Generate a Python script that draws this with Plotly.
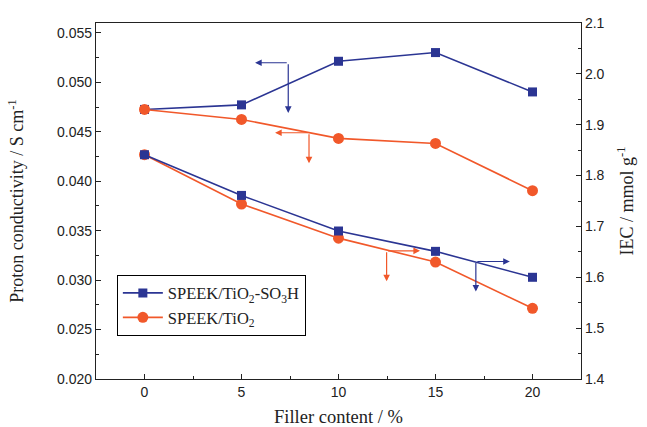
import plotly.graph_objects as go

filler = [0, 5, 10, 15, 20]
cond_so3h = [0.04726, 0.04772, 0.05213, 0.05301, 0.04903]
cond_tio2 = [0.04726, 0.04625, 0.04433, 0.04382, 0.03904]
iec_so3h = [1.841, 1.761, 1.691, 1.651, 1.600]
iec_tio2 = [1.841, 1.744, 1.677, 1.630, 1.539]

BLUE = "#2B3593"
ORANGE = "#F1582A"
SERIF = "Liberation Serif, Times New Roman, serif"
SANS = "Liberation Sans, Arial, sans-serif"

fig = go.Figure()
fig.add_trace(go.Scatter(x=filler, y=cond_so3h, mode="lines+markers",
                         name="SPEEK/TiO<sub>2</sub>-SO<sub>3</sub>H",
                         line=dict(color=BLUE, width=1.6),
                         marker=dict(symbol="square", size=9, color=BLUE)))
fig.add_trace(go.Scatter(x=filler, y=cond_tio2, mode="lines+markers",
                         name="SPEEK/TiO<sub>2</sub>",
                         line=dict(color=ORANGE, width=1.6),
                         marker=dict(symbol="circle", size=11, color=ORANGE)))
fig.add_trace(go.Scatter(x=filler, y=iec_tio2, mode="lines+markers", yaxis="y2",
                         showlegend=False,
                         line=dict(color=ORANGE, width=1.6),
                         marker=dict(symbol="circle", size=11, color=ORANGE)))
fig.add_trace(go.Scatter(x=filler, y=iec_so3h, mode="lines+markers", yaxis="y2",
                         showlegend=False,
                         line=dict(color=BLUE, width=1.6),
                         marker=dict(symbol="square", size=9, color=BLUE)))

# indicator arrows (start point -> head), in data coordinates
arrows = [
    (7.41, 0.05198, 5.70, 0.05198, "y", BLUE),
    (7.41, 0.05198, 7.41, 0.04691, "y", BLUE),
    (8.48, 0.04490, 6.73, 0.04490, "y", ORANGE),
    (8.48, 0.04490, 8.48, 0.04181, "y", ORANGE),
    (12.48, 1.652, 14.20, 1.652, "y2", ORANGE),
    (12.48, 1.652, 12.48, 1.592, "y2", ORANGE),
    (17.08, 1.631, 18.83, 1.631, "y2", BLUE),
    (17.08, 1.631, 17.08, 1.572, "y2", BLUE),
]
for xs, ys, xh, yh, ax_, col in arrows:
    fig.add_annotation(x=xh, y=yh, ax=xs, ay=ys, xref="x", yref=ax_,
                       axref="x", ayref=ax_, text="", showarrow=True,
                       arrowhead=2, arrowsize=1.1, arrowwidth=1.2,
                       arrowcolor=col)

fig.update_layout(
    width=647, height=427,
    margin=dict(l=96, r=66, t=23, b=48),
    paper_bgcolor="white", plot_bgcolor="white",
    showlegend=True,
    legend=dict(x=0.043, y=0.293, xanchor="left", yanchor="top",
                bordercolor="black", borderwidth=1, bgcolor="white",
                font=dict(family=SERIF, size=16.5, color="#222"),
                tracegroupgap=0, itemwidth=40),
    xaxis=dict(range=[-2.5, 22.5], tickvals=filler, showgrid=False, zeroline=False,
               automargin=False,
               ticks="inside", ticklen=5, tickcolor="#222",
               showline=True, linecolor="#222", linewidth=1.2, mirror=True,
               minor=dict(dtick=2.5, tick0=0, ticks="inside", ticklen=3, tickcolor="#222"),
               tickfont=dict(family=SANS, size=14, color="#222"),
               title=dict(text="Filler content / %", standoff=18,
                          font=dict(family=SERIF, size=18.5, color="#222"))),
    yaxis=dict(range=[0.020, 0.056], tickvals=[0.020, 0.025, 0.030, 0.035, 0.040, 0.045, 0.050, 0.055],
               tickformat=".3f", showgrid=False, zeroline=False, automargin=False,
               ticks="inside", ticklen=5, tickcolor="#222",
               showline=True, linecolor="#222", linewidth=1.2,
               minor=dict(dtick=0.0025, tick0=0.02, ticks="inside", ticklen=3, tickcolor="#222"),
               tickfont=dict(family=SANS, size=14, color="#222"),
               title=dict(text="Proton conductivity / S cm<sup>-1</sup>", standoff=28,
                          font=dict(family=SERIF, size=18, color="#222"))),
    yaxis2=dict(range=[1.4, 2.1], tickvals=[1.4, 1.5, 1.6, 1.7, 1.8, 1.9, 2.0, 2.1],
                tickformat=".1f", overlaying="y", side="right", showgrid=False, zeroline=False,
                automargin=False,
                ticks="inside", ticklen=5, tickcolor="#222",
                showline=True, linecolor="#222", linewidth=1.2,
                minor=dict(dtick=0.05, tick0=1.4, ticks="inside", ticklen=3, tickcolor="#222"),
                tickfont=dict(family=SANS, size=14, color="#222"),
                title=dict(text="IEC / mmol g<sup>-1</sup>", standoff=16,
                           font=dict(family=SERIF, size=18, color="#222"))),
)

fig.write_html("out.html")
